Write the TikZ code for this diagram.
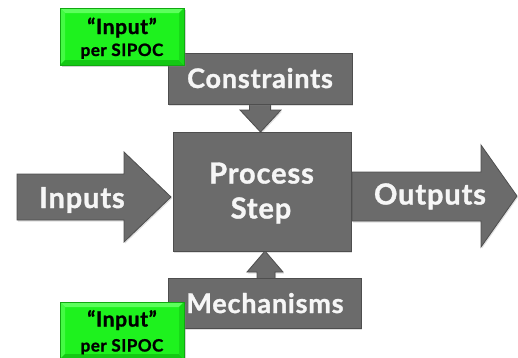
\documentclass[tikz,border=0pt]{standalone}
\usepackage{fontspec}
\setmainfont{Lato}
\newfontfamily\labelfamily{Lato}[LetterSpace=3, BoldFeatures={FakeBold=1.2}]
\usetikzlibrary{calc,shadows}

\definecolor{boxgray}{HTML}{6B6B6B}
\definecolor{edgegray}{HTML}{4E4E4E}
\definecolor{labelwhite}{HTML}{F6F6F6}
\definecolor{sipocgreen}{HTML}{1EF21E}
\definecolor{sipoclight}{HTML}{5CFF5C}
\definecolor{sipocdark}{HTML}{14C814}
\definecolor{sipocedge}{HTML}{11A811}

\tikzset{
  blockshape/.style={fill=boxgray, draw=edgegray, line width=0.8pt,
    drop shadow={opacity=0.25, shadow xshift=1pt, shadow yshift=-1.5pt}},
  biglabel/.style={text=labelwhite, anchor=base, inner sep=0pt,
    font=\labelfamily\bfseries\fontsize{29}{29}\selectfont},
  smalllabel/.style={text=labelwhite, anchor=base, inner sep=0pt,
    font=\labelfamily\bfseries\fontsize{27}{27}\selectfont},
  quotelabel/.style={text=black, anchor=base, inner sep=0pt,
    font=\labelfamily\bfseries\fontsize{21}{21}\selectfont},
  notelabel/.style={text=black, anchor=base, inner sep=0pt,
    font=\labelfamily\bfseries\fontsize{17}{17}\selectfont},
  sipoc/.style={minimum width=124pt, minimum height=57pt, inner sep=0pt,
    fill=sipocgreen, draw=sipocedge, line width=0.5pt,
    drop shadow={opacity=0.35, shadow xshift=1.5pt, shadow yshift=-2pt},
    path picture={
      \fill[sipoclight] (path picture bounding box.north west) -- (path picture bounding box.north east)
        -- ([xshift=-5pt,yshift=-5pt]path picture bounding box.north east)
        -- ([xshift=5pt,yshift=-5pt]path picture bounding box.north west) -- cycle;
      \fill[sipoclight!60!sipocgreen] (path picture bounding box.north west) -- (path picture bounding box.south west)
        -- ([xshift=5pt,yshift=5pt]path picture bounding box.south west)
        -- ([xshift=5pt,yshift=-5pt]path picture bounding box.north west) -- cycle;
      \fill[sipocdark] (path picture bounding box.south west) -- (path picture bounding box.south east)
        -- ([xshift=-5pt,yshift=5pt]path picture bounding box.south east)
        -- ([xshift=5pt,yshift=5pt]path picture bounding box.south west) -- cycle;
      \fill[sipocdark!60!sipocgreen] (path picture bounding box.north east) -- (path picture bounding box.south east)
        -- ([xshift=-5pt,yshift=5pt]path picture bounding box.south east)
        -- ([xshift=-5pt,yshift=-5pt]path picture bounding box.north east) -- cycle;
    }},
}

\begin{document}
\begin{tikzpicture}[x=1pt,y=-1pt]
\useasboundingbox (0,0) rectangle (518,357);
\clip (0,0) rectangle (518,357);

% down arrow from Constraints into the process step
\path[blockshape] (249.5,98) -- (270.5,98) -- (270.5,110) -- (281,110)
  -- (260.5,132) -- (240,110) -- (249.5,110) -- cycle;
% up arrow from Mechanisms into the process step
\path[blockshape] (257,284) -- (257,272) -- (247,272) -- (265,251)
  -- (283,272) -- (275,272) -- (275,284) -- cycle;

% Inputs block arrow
\path[blockshape] (17,174) -- (124,174) -- (124,152) -- (171,197)
  -- (124,242) -- (124,220) -- (17,220) -- cycle;
\node[biglabel] (inputs) at (82,208) {Inputs};

% Outputs block arrow
\path[blockshape] (352,172) -- (481,172) -- (481,145) -- (517,196)
  -- (481,247) -- (481,221) -- (352,221) -- cycle;
\node[biglabel] (outputs) at (430,204.5) {Outputs};

% central process step
\node[blockshape, minimum width=178pt, minimum height=119pt,
      inner sep=0pt] (proc) at (262,191.5) {};
\node[biglabel] (procA) at (261.5,183.5) {Process};
\node[biglabel] (procB) at (261,218.5) {Step};

% constraints and mechanisms boxes
\node[blockshape, minimum width=184pt, minimum height=51pt,
      inner sep=0pt] (con) at (260,78.5) {};
\node[smalllabel] (conlabel) at (260,88) {Constraints};
\node[blockshape, minimum width=193pt, minimum height=50pt,
      inner sep=0pt] (mech) at (264.5,303) {};
\node[smalllabel] (mechlabel) at (265,313) {Mechanisms};

% SIPOC notes
\node[sipoc] (sipoctop) at (122,36.5) {};
\node[quotelabel] (sipoctopq) at ([yshift=2.5pt]sipoctop.center) {“Input”};
\node[notelabel] (sipoctopn) at ([yshift=-19.5pt]sipoctop.center) {per SIPOC};
\node[sipoc] (sipocbottom) at (122,330.5) {};
\node[quotelabel] (sipocbotq) at ([yshift=4pt]sipocbottom.center) {“Input”};
\node[notelabel] (sipocbotn) at ([yshift=-21pt]sipocbottom.center) {per SIPOC};
\end{tikzpicture}
\end{document}
